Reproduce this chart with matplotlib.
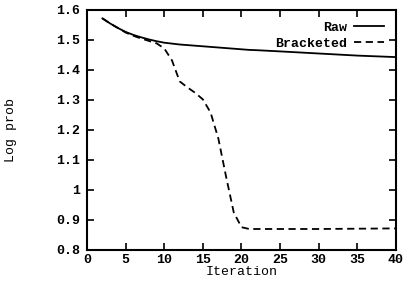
import matplotlib.pyplot as plt

iterations = [2, 3, 4, 5, 6, 7, 8, 9, 10, 11, 12, 13, 14, 15, 16, 17, 18, 19, 20, 21,
              22, 25, 30, 35, 40]
raw = [1.572, 1.555, 1.540, 1.527, 1.517, 1.509, 1.502, 1.496, 1.491, 1.488, 1.485,
       1.483, 1.481, 1.479, 1.477, 1.475, 1.473, 1.471, 1.469, 1.467,
       1.466, 1.462, 1.455, 1.448, 1.443]
bracketed = [1.572, 1.555, 1.540, 1.525, 1.514, 1.505, 1.497, 1.489, 1.472, 1.432, 1.362,
             1.342, 1.324, 1.302, 1.258, 1.172, 1.045, 0.925, 0.876, 0.870,
             0.870, 0.870, 0.870, 0.871, 0.872]

plt.rcParams['font.family'] = ['Liberation Mono', 'DejaVu Sans Mono']
plt.rcParams['font.weight'] = 'bold'

fig = plt.figure(figsize=(4.06, 2.84), dpi=100)
ax = fig.add_axes([87 / 406, 34 / 284, 309 / 406, 240 / 284])

ax.plot(iterations, raw, color='black', lw=1.3, label='Raw')
ax.plot(iterations, bracketed, color='black', lw=1.3, dashes=(4, 2.5), label='Bracketed')

ax.set_xlim(0, 40)
ax.set_ylim(0.8, 1.6)
ax.set_xticks(range(0, 41, 5))
ax.set_yticks([0.8, 0.9, 1.0, 1.1, 1.2, 1.3, 1.4, 1.5, 1.6])
ax.set_yticklabels(['0.8', '0.9', '1', '1.1', '1.2', '1.3', '1.4', '1.5', '1.6'])
ax.tick_params(direction='in', top=True, right=True, length=5, width=1.2,
               labelsize=9.5, pad=5)
ax.tick_params(axis='x', pad=3)
for s in ax.spines.values():
    s.set_linewidth(1.5)

ax.set_xlabel('Iteration', fontsize=9.5, labelpad=0)
ax.set_ylabel('Log prob', fontsize=9.5, labelpad=28)

ax.legend(loc='upper right', frameon=False, markerfirst=False, fontsize=9.5,
          handlelength=2.3, handletextpad=0.5, borderaxespad=0.5, labelspacing=0.25)

fig.savefig('out.png', dpi=100)
